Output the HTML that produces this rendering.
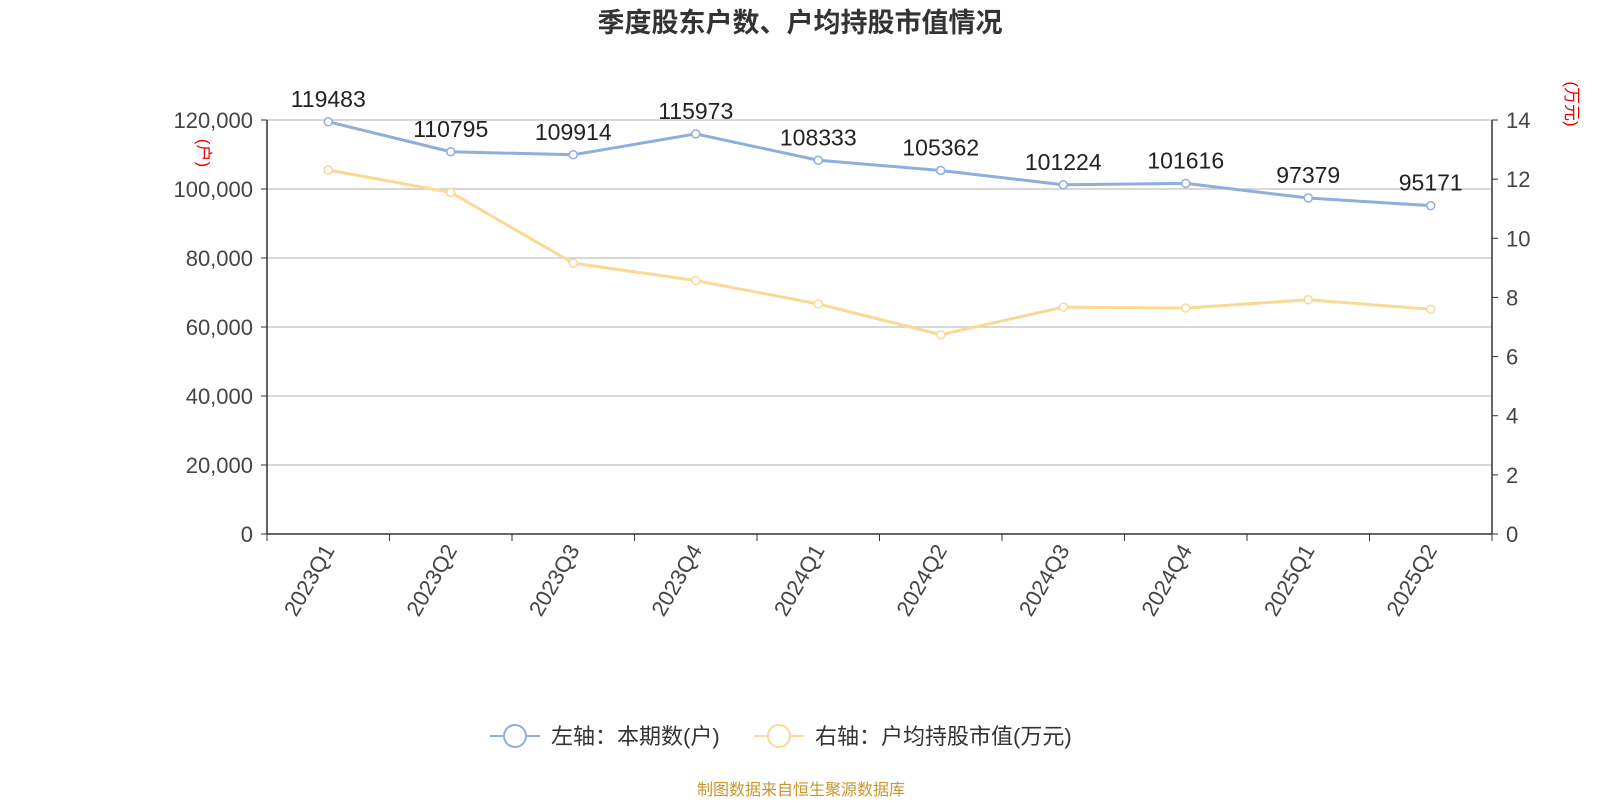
<!DOCTYPE html>
<html><head><meta charset="utf-8">
<style>
body{margin:0;background:#fff;font-family:"Liberation Sans","Noto Sans CJK SC",sans-serif;}
</style></head>
<body>
<svg id="chart" width="1600" height="800" xmlns="http://www.w3.org/2000/svg" font-family="Liberation Sans, Noto Sans CJK SC, sans-serif">
<text x="800" y="32" text-anchor="middle" font-size="27" font-weight="bold" fill="#333">季度股东户数、户均持股市值情况</text>
<g id="grid"></g><g id="axes"></g><g id="series"></g>
<text transform="translate(198,153) rotate(90)" text-anchor="middle" font-size="17" fill="#e00">(户)</text>
<text transform="translate(1566,104) rotate(90)" text-anchor="middle" font-size="17" fill="#e00">(万元)</text>
<g>
<g>
<line x1="490" y1="736" x2="540" y2="736" stroke="#8eaedb" stroke-width="2"/>
<circle cx="515" cy="736" r="11" fill="#fff" stroke="#8eaedb" stroke-width="2"/>
<text x="551" y="744" font-size="22" fill="#333">左轴：本期数(户)</text></g>
<g>
<line x1="754" y1="736" x2="804" y2="736" stroke="#fcd896" stroke-width="2"/>
<circle cx="779" cy="736" r="11" fill="#fff" stroke="#fcd896" stroke-width="2"/>
<text x="815" y="744" font-size="22" fill="#333">右轴：户均持股市值(万元)</text></g>
</g>
<text x="801" y="795" text-anchor="middle" font-size="16" fill="#c8962c">制图数据来自恒生聚源数据库</text>
</svg>
<script>
const categories=["2023Q1","2023Q2","2023Q3","2023Q4","2024Q1","2024Q2","2024Q3","2024Q4","2025Q1","2025Q2"];
const holders=[119483,110795,109914,115973,108333,105362,101224,101616,97379,95171];
const avgValue=[12.31,11.55,9.16,8.57,7.78,6.74,7.67,7.64,7.92,7.6];
const leftTicks=[0,20000,40000,60000,80000,100000,120000];
const rightTicks=[0,2,4,6,8,10,12,14];
const NS="http://www.w3.org/2000/svg";
const X0=267,X1=1492,Y0=534,Y1=120;
const bw=(X1-X0)/categories.length;
const xc=i=>X0+bw*(i+0.5);
const yl=v=>Y0-(v/120000)*(Y0-Y1);
const yr=v=>Y0-(v/14)*(Y0-Y1);
function mk(tag,attrs,parent,txt){const e=document.createElementNS(NS,tag);for(const k in attrs)e.setAttribute(k,attrs[k]);if(txt!==undefined)e.textContent=txt;document.getElementById(parent).appendChild(e);return e;}
leftTicks.forEach(t=>{
 if(t>0){const g=mk('line',{x1:X0,x2:X1,y1:yl(t),y2:yl(t),stroke:'#ccc','stroke-width':1.5},'grid');
 
 }
 const tk=mk('line',{x1:X0-6,x2:X0,y1:yl(t),y2:yl(t),stroke:'#333'},'axes');
 
 
 const l=mk('text',{x:X0-14,y:yl(t)+8,'text-anchor':'end','font-size':22,fill:'#444'},'axes',t.toLocaleString('en-US'));
 
 
});
rightTicks.forEach(t=>{
 const tk=mk('line',{x1:X1,x2:X1+6,y1:yr(t),y2:yr(t),stroke:'#333'},'axes');
 
 
 const l=mk('text',{x:X1+14,y:yr(t)+8,'font-size':22,fill:'#444'},'axes',t);
 
 
});
[[X0,Y1,X0,Y0],[X1,Y1,X1,Y0],[X0,Y0,X1,Y0]].forEach(a=>{
 const e=mk('line',{x1:a[0],y1:a[1],x2:a[2],y2:a[3],stroke:'#333','stroke-width':1.5},'axes');
 
 
});
for(let i=0;i<=categories.length;i++){
 const e=mk('line',{x1:X0+bw*i,x2:X0+bw*i,y1:Y0,y2:Y0+7,stroke:'#333'},'axes');
 
 
}
categories.forEach((c,i)=>{
 const e=mk('text',{transform:`translate(${xc(i)+7},${Y0+16}) rotate(-60)`,'text-anchor':'end','font-size':22,fill:'#444'},'axes',c);
 
 
});
function series(vals,yf,color,name,labels){
 const p=mk('polyline',{points:vals.map((v,i)=>xc(i)+','+yf(v)).join(' '),fill:'none',stroke:color,'stroke-width':3},'series');
 
 
 vals.forEach((v,i)=>{
  const c=mk('circle',{cx:xc(i),cy:yf(v),r:4,fill:'#fff',stroke:color,'stroke-width':1.5},'series');
  
  
  if(labels){const t=mk('text',{x:xc(i),y:yf(v)-15,'text-anchor':'middle','font-size':23,fill:'#222'},'series',v);
  
  }
 });
}
series(avgValue,yr,'#fcd896','avg-value',false);
series(holders,yl,'#8eaedb','holders',true);
</script>
</body></html>
